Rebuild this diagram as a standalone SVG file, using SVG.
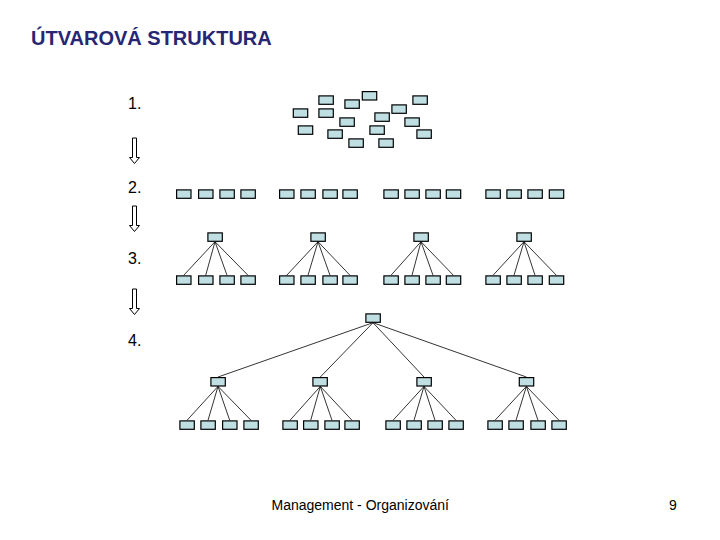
<svg xmlns="http://www.w3.org/2000/svg" width="720" height="540" viewBox="0 0 720 540">
<defs>
<style>
.b{fill:#c0dfe3;stroke:#000;stroke-width:1.2}
.l{stroke:#000;stroke-width:0.8;fill:none}
.n{font-family:"Liberation Sans",Arial,sans-serif;font-size:16px;fill:#000}
.ar{fill:#fff;stroke:#000;stroke-width:1}
</style>
<path id="arrow" class="ar" d="M132.5,138 H136.5 V157.5 H139.5 L134.5,163.5 L129.5,157.5 H132.5 Z"/>
</defs>
<rect width="720" height="540" fill="#fff"/>
<text x="31" y="45" font-family="Liberation Sans,Arial,sans-serif" font-size="20" font-weight="bold" fill="#262673">ÚTVAROVÁ STRUKTURA</text>
<g id="labels">
<text class="n" x="128" y="109">1.</text>
<text class="n" x="128" y="193">2.</text>
<text class="n" x="128" y="264">3.</text>
<text class="n" x="128" y="346">4.</text>
</g>
<g id="arrows">
<use href="#arrow"/>
<use href="#arrow" transform="translate(0,68)"/>
<use href="#arrow" transform="translate(0,151)"/>
</g>
<g id="level1">
<rect class="b" x="293.3" y="108.9" width="14.4" height="8.4"/>
<rect class="b" x="318.9" y="95.9" width="14.4" height="8.4"/>
<rect class="b" x="318.9" y="108.9" width="14.4" height="8.4"/>
<rect class="b" x="344.9" y="99.9" width="14.4" height="8.4"/>
<rect class="b" x="362.3" y="91.6" width="14.4" height="8.4"/>
<rect class="b" x="298.3" y="125.9" width="14.4" height="8.4"/>
<rect class="b" x="339.9" y="117.9" width="14.4" height="8.4"/>
<rect class="b" x="327.9" y="129.9" width="14.4" height="8.4"/>
<rect class="b" x="348.9" y="138.9" width="14.4" height="8.4"/>
<rect class="b" x="369.9" y="125.9" width="14.4" height="8.4"/>
<rect class="b" x="374.9" y="112.9" width="14.4" height="8.4"/>
<rect class="b" x="378.9" y="138.9" width="14.4" height="8.4"/>
<rect class="b" x="391.9" y="104.9" width="14.4" height="8.4"/>
<rect class="b" x="404.9" y="117.9" width="14.4" height="8.4"/>
<rect class="b" x="412.9" y="95.9" width="14.4" height="8.4"/>
<rect class="b" x="416.9" y="129.9" width="14.4" height="8.4"/>
</g>
<g id="level2">
<rect class="b" x="176.6" y="189.9" width="14.4" height="8.4"/>
<rect class="b" x="198.6" y="189.9" width="14.4" height="8.4"/>
<rect class="b" x="219.9" y="189.9" width="14.4" height="8.4"/>
<rect class="b" x="240.9" y="189.9" width="14.4" height="8.4"/>
<rect class="b" x="279.6" y="189.9" width="14.4" height="8.4"/>
<rect class="b" x="300.9" y="189.9" width="14.4" height="8.4"/>
<rect class="b" x="322.9" y="189.9" width="14.4" height="8.4"/>
<rect class="b" x="342.9" y="189.9" width="14.4" height="8.4"/>
<rect class="b" x="383.9" y="189.9" width="14.4" height="8.4"/>
<rect class="b" x="404.9" y="189.9" width="14.4" height="8.4"/>
<rect class="b" x="425.9" y="189.9" width="14.4" height="8.4"/>
<rect class="b" x="446.3" y="189.9" width="14.4" height="8.4"/>
<rect class="b" x="485.9" y="189.9" width="14.4" height="8.4"/>
<rect class="b" x="506.9" y="189.9" width="14.4" height="8.4"/>
<rect class="b" x="527.9" y="189.9" width="14.4" height="8.4"/>
<rect class="b" x="549.3" y="189.9" width="14.4" height="8.4"/>
</g>
<g id="connectors">
<path class="l" d="M215,241.7 L183.7,275.3 M215,241.7 L205.7,275.3 M215,241.7 L227,275.3 M215,241.7 L248,275.3
M318,241.7 L286.7,275.3 M318,241.7 L308,275.3 M318,241.7 L330,275.3 M318,241.7 L350,275.3
M421,241.7 L391,275.3 M421,241.7 L412,275.3 M421,241.7 L433,275.3 M421,241.7 L453.4,275.3
M524,241.7 L493,275.3 M524,241.7 L514,275.3 M524,241.7 L535,275.3 M524,241.7 L556.4,275.3"/>
<path class="l" d="M373,322.7 L218,377 M373,322.7 L320.3,377 M373,322.7 L424,377 M373,322.7 L526.4,377"/>
<path class="l" d="M218,386.4 L187,420.3 M218,386.4 L208,420.3 M218,386.4 L229.7,420.3 M218,386.4 L251,420.3
M320.3,386.4 L290,420.3 M320.3,386.4 L310.7,420.3 M320.3,386.4 L332,420.3 M320.3,386.4 L352,420.3
M424,386.4 L393,420.3 M424,386.4 L414,420.3 M424,386.4 L435,420.3 M424,386.4 L456,420.3
M526.4,386.4 L495,420.3 M526.4,386.4 L516,420.3 M526.4,386.4 L538,420.3 M526.4,386.4 L559,420.3"/>
</g>
<g id="level3">
<rect class="b" x="207.9" y="232.9" width="14.4" height="8.4"/>
<rect class="b" x="310.9" y="232.9" width="14.4" height="8.4"/>
<rect class="b" x="413.9" y="232.9" width="14.4" height="8.4"/>
<rect class="b" x="516.9" y="232.9" width="14.4" height="8.4"/>
<rect class="b" x="176.6" y="275.9" width="14.4" height="8.4"/>
<rect class="b" x="198.6" y="275.9" width="14.4" height="8.4"/>
<rect class="b" x="219.9" y="275.9" width="14.4" height="8.4"/>
<rect class="b" x="240.9" y="275.9" width="14.4" height="8.4"/>
<rect class="b" x="279.6" y="275.9" width="14.4" height="8.4"/>
<rect class="b" x="300.9" y="275.9" width="14.4" height="8.4"/>
<rect class="b" x="322.9" y="275.9" width="14.4" height="8.4"/>
<rect class="b" x="342.9" y="275.9" width="14.4" height="8.4"/>
<rect class="b" x="383.9" y="275.9" width="14.4" height="8.4"/>
<rect class="b" x="404.9" y="275.9" width="14.4" height="8.4"/>
<rect class="b" x="425.9" y="275.9" width="14.4" height="8.4"/>
<rect class="b" x="446.3" y="275.9" width="14.4" height="8.4"/>
<rect class="b" x="485.9" y="275.9" width="14.4" height="8.4"/>
<rect class="b" x="506.9" y="275.9" width="14.4" height="8.4"/>
<rect class="b" x="527.9" y="275.9" width="14.4" height="8.4"/>
<rect class="b" x="549.3" y="275.9" width="14.4" height="8.4"/>
</g>
<g id="level4">
<rect class="b" x="365.9" y="313.9" width="14.4" height="8.4"/>
<rect class="b" x="210.9" y="377.6" width="14.4" height="8.4"/>
<rect class="b" x="312.9" y="377.6" width="14.4" height="8.4"/>
<rect class="b" x="416.9" y="377.6" width="14.4" height="8.4"/>
<rect class="b" x="519.3" y="377.6" width="14.4" height="8.4"/>
<rect class="b" x="179.9" y="420.9" width="14.4" height="8.4"/>
<rect class="b" x="200.9" y="420.9" width="14.4" height="8.4"/>
<rect class="b" x="222.6" y="420.9" width="14.4" height="8.4"/>
<rect class="b" x="243.9" y="420.9" width="14.4" height="8.4"/>
<rect class="b" x="282.9" y="420.9" width="14.4" height="8.4"/>
<rect class="b" x="303.6" y="420.9" width="14.4" height="8.4"/>
<rect class="b" x="324.9" y="420.9" width="14.4" height="8.4"/>
<rect class="b" x="344.9" y="420.9" width="14.4" height="8.4"/>
<rect class="b" x="385.9" y="420.9" width="14.4" height="8.4"/>
<rect class="b" x="406.9" y="420.9" width="14.4" height="8.4"/>
<rect class="b" x="427.9" y="420.9" width="14.4" height="8.4"/>
<rect class="b" x="448.9" y="420.9" width="14.4" height="8.4"/>
<rect class="b" x="487.9" y="420.9" width="14.4" height="8.4"/>
<rect class="b" x="508.9" y="420.9" width="14.4" height="8.4"/>
<rect class="b" x="530.9" y="420.9" width="14.4" height="8.4"/>
<rect class="b" x="551.9" y="420.9" width="14.4" height="8.4"/>
</g>
<g id="footer">
<text x="271.5" y="510" font-family="Liberation Sans,Arial,sans-serif" font-size="14" fill="#000">Management - Organizování</text>
<text x="669" y="510" font-family="Liberation Sans,Arial,sans-serif" font-size="14" fill="#000">9</text>
</g>
</svg>
